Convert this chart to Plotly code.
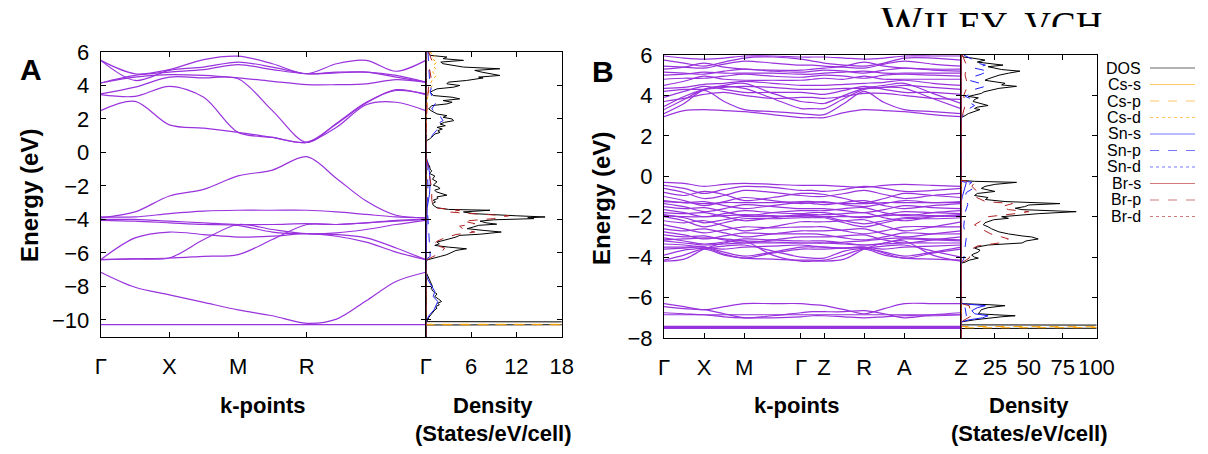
import plotly.graph_objects as go

W, H = 1208, 454
OFF = 8  # the page body adds an 8 px margin; positions below are window pixels
PURPLE = "#9933dd"
CS, SN, BR = "#ffa500", "#1f1fff", "#b22222"
SANS = "Liberation Sans, Arial, sans-serif"
NARROW = "Liberation Sans Narrow, Arial Narrow, Liberation Sans, sans-serif"

# ---------------- panel A : cubic, path G-X-M-R-G ----------------
KA = [0, 0.25, 0.5, 0.75, 1.0, 1.25, 1.5, 1.717, 1.933, 2.15, 2.366]
KA_TICKS = [0, 0.5, 1.0, 1.5, 2.366]
KA_LABELS = ["Γ", "X", "M", "R", "Γ"]

BANDS_A = [
    [-10.28, -10.28, -10.28, -10.28, -10.28, -10.28, -10.28, -10.28, -10.28, -10.28, -10.28],
    [-7.15, -8.05, -8.5, -8.95, -9.4, -9.75, -10.2, -9.95, -8.85, -7.7, -7.15],
    [-6.4, -6.35, -6.3, -6.2, -6.1, -5.2, -4.3, -4.3, -4.2, -4.05, -4.0],
    [-6.4, -6.35, -6.3, -5.2, -4.3, -4.6, -4.85, -4.9, -5.1, -5.7, -6.4],
    [-6.4, -5.1, -4.75, -4.9, -5.05, -5.0, -4.85, -5.0, -5.35, -5.95, -6.4],
    [-4.05, -4.1, -4.2, -4.3, -4.35, -4.75, -4.85, -4.8, -4.6, -4.3, -4.05],
    [-4.0, -4.0, -4.1, -4.2, -4.3, -4.3, -4.25, -4.3, -4.2, -4.1, -4.0],
    [-3.85, -3.85, -3.65, -3.5, -3.45, -3.45, -3.45, -3.55, -3.7, -3.85, -3.9],
    [-3.9, -3.55, -2.6, -2.2, -1.4, -1.05, -0.25, -1.55, -2.9, -3.75, -3.9],
    [2.5, 3.05, 1.65, 1.45, 1.2, 0.9, 0.6, 1.5, 2.85, 3.0, 2.5],
    [3.45, 3.35, 3.95, 3.3, 1.2, 0.9, 0.6, 1.7, 2.95, 3.75, 3.45],
    [3.5, 3.9, 4.5, 4.45, 4.4, 2.5, 0.6, 1.75, 3.0, 3.7, 3.5],
    [4.15, 4.5, 4.65, 4.6, 4.45, 4.25, 4.05, 4.05, 4.1, 4.35, 4.2],
    [4.15, 4.6, 4.8, 4.95, 5.25, 4.95, 4.7, 4.75, 4.8, 4.5, 4.2],
    [5.5, 4.3, 4.9, 5.1, 5.4, 5.1, 4.7, 4.8, 4.8, 4.6, 4.2],
    [5.5, 4.7, 4.95, 5.55, 5.75, 5.3, 4.7, 5.3, 5.5, 4.85, 5.5],
]

# total DOS, panel A (energy, states/eV/cell)
DOSA_E = [6.0, 5.8, 5.7, 5.6, 5.5, 5.4, 5.3, 5.2, 5.1, 5.0, 4.9, 4.8, 4.7, 4.6, 4.5, 4.45, 4.3, 4.2,
          4.1, 4.0, 3.9, 3.8, 3.7, 3.6, 3.4, 3.3, 3.2, 3.1, 3.0, 2.9, 2.8, 2.6, 2.5, 2.3, 2.2, 2.1,
          2.0, 1.9, 1.8, 1.7, 1.6, 1.5, 1.4, 1.3, 1.2, 1.1, 1.0, 0.9, 0.8, 0.7, 0.6, -0.2, -0.3,
          -0.6, -0.8, -1.0, -1.1, -1.25, -1.4, -1.6, -1.75, -1.95, -2.05, -2.15, -2.25, -2.35,
          -2.45, -2.55, -2.65, -2.75, -2.85, -2.95, -3.05, -3.15, -3.3, -3.4, -3.45, -3.55, -3.65,
          -3.72, -3.78, -3.85, -3.9, -3.95, -4.02, -4.1, -4.2, -4.28, -4.35, -4.45, -4.55, -4.65,
          -4.75, -4.82, -4.88, -4.95, -5.05, -5.15, -5.25, -5.35, -5.45, -5.55, -5.65, -5.75,
          -5.85, -5.92, -6.0, -6.1, -6.2, -6.3, -6.4, -6.5, -7.1, -7.2, -7.4, -7.6, -7.8, -8.0,
          -8.1, -8.3, -8.45, -8.6, -8.75, -8.9, -9.0, -9.1, -9.2, -9.3, -9.4, -9.55, -9.7, -9.85,
          -10.0, -10.1, -10.15, -10.25, -10.3, -11.0]
DOSA_TOT = [0.3, 0.6, 2.8, 2.3, 5.0, 2.0, 2.3, 4.0, 5.0, 9.8, 6.5, 7.4, 8.5, 9.8, 7.0, 7.6, 5.4, 3.0,
            2.8, 4.5, 3.7, 1.5, 1.0, 0.6, 1.0, 3.5, 4.5, 2.3, 3.5, 2.8, 0.8, 0.4, 0.7, 1.5, 2.8, 2.3,
            3.5, 3.7, 2.5, 1.9, 2.6, 1.5, 2.2, 1.6, 1.9, 1.2, 1.0, 0.8, 0.5, 0.1, 0.0, 0.0, 0.1,
            0.2, 0.5, 0.6, 0.8, 0.5, 1.2, 0.9, 1.5, 1.0, 1.6, 1.9, 1.2, 1.4,
            2.0, 2.8, 1.5, 1.6, 1.0, 1.3, 0.9, 1.0, 1.5, 3.0, 8.5, 5.0, 6.3,
            9.0, 12.0, 15.8, 13.5, 14.3, 9.0, 7.2, 8.0, 9.4, 7.0, 6.3, 5.5, 7.6,
            10.0, 8.5, 7.2, 4.5, 4.0, 3.2, 2.5, 1.5, 1.8, 1.2, 3.0, 5.4,
            4.0, 3.7, 3.3, 2.8, 2.0, 1.0, 0.3, 0.0, 0.0, 0.1, 0.3, 0.4, 0.6, 0.9,
            0.7, 1.0, 1.5, 1.2, 1.7, 2.1, 1.6, 1.8, 1.3, 1.5, 1.2, 0.9, 0.6, 0.4,
            0.3, 0.0, 60, 60, 0.0, 0.0]

# projected DOS, panel A
A_CSP_E = [6.0, -10.26, -10.27, -10.29, -11.0]
A_CSP = [0, 0, 60, 0, 0]
A_CSD_E = [6.0, 5.8, 5.6, 5.4, 5.2, 5.0, 4.8, 4.6, 4.4, 4.2, 4.0, 3.8, 3.5, 3.0, 2.0, 0.6, -11.0]
A_CSD = [0.5, 1.2, 0.8, 1.5, 1.0, 1.3, 0.9, 1.4, 1.0, 0.7, 0.9, 0.5, 0.3, 0.2, 0.1, 0.0, 0.0]
A_SNS_E = [6.0, -0.3, -0.6, -1.2, -1.8, -2.5, -3.3, -7.2, -7.6, -8.0, -8.3, -8.6, -8.9, -9.1,
           -9.4, -9.7, -10.0, -10.1, -11.0]
A_SNS = [0, 0, 0.3, 0.5, 0.6, 0.5, 0.2, 0, 0.3, 0.8, 1.2, 1.0, 1.6, 1.4, 1.1, 0.5, 0.2, 0, 0]
A_SNP_E = [6.0, 4.4, 4.0, 3.6, 3.2, 3.0, 2.6, 2.3, 2.1, 1.9, 1.7, 1.5, 1.3, 1.1, 0.9, 0.7, 0.6,
           -0.3, -1.0, -2.0, -3.0, -4.0, -5.5, -6.2, -6.4, -11.0]
A_SNP = [0.3, 0.5, 0.8, 0.6, 1.0, 1.4, 0.8, 1.6, 2.0, 2.3, 1.5, 1.6, 1.4, 1.0, 0.7, 0.2, 0.0,
         0.0, 0.2, 0.3, 0.2, 0.3, 0.5, 0.6, 0.0, 0.0]
A_BRP_E = [6.0, 5.5, 5.0, 4.5, 4.0, 3.0, 0.6, -0.3, -0.8, -1.5, -2.2, -2.8, -3.3, -3.45, -3.55,
           -3.65, -3.78, -3.85, -3.95, -4.1, -4.25, -4.4, -4.6, -4.75, -4.9, -5.1, -5.3, -5.5,
           -5.7, -5.9, -6.1, -6.3, -6.45, -11.0]
A_BRP = [0.4, 0.8, 0.5, 0.7, 0.4, 0.2, 0.0, 0.0, 0.3, 0.6, 0.8, 0.8, 1.0, 4.5, 3.0,
         6.0, 11.0, 10.0, 9.0, 5.0, 6.5, 4.5, 5.0, 6.5, 4.0, 2.5, 1.5, 1.0,
         2.5, 2.2, 1.5, 0.6, 0.0, 0.0]

# ---------------- panel B : tetragonal, path G-X-M-G-Z-R-A-Z ----------------
KB = [0, 0.25, 0.5, 0.75, 1.0, 1.354, 1.707, 1.851, 1.995, 2.245, 2.495, 2.745, 2.995, 3.349, 3.702]
KB_TICKS = [0, 0.5, 1.0, 1.707, 1.995, 2.495, 2.995, 3.702]
KB_LABELS = ["Γ", "X", "M", "Γ", "Z", "R", "A", "Z"]

BANDS_B = [
    [-7.42, -7.42, -7.42, -7.42, -7.42, -7.42, -7.42, -7.42, -7.42, -7.42, -7.42, -7.42, -7.42, -7.42, -7.42],
    [-7.47, -7.47, -7.47, -7.47, -7.47, -7.47, -7.47, -7.47, -7.47, -7.47, -7.47, -7.47, -7.47, -7.47, -7.47],
    [-7.52, -7.52, -7.52, -7.52, -7.52, -7.52, -7.52, -7.52, -7.52, -7.52, -7.52, -7.52, -7.52, -7.52, -7.52],
    [-6.3, -6.45, -6.6, -6.45, -6.3, -6.3, -6.3, -6.35, -6.4, -6.6, -6.8, -6.55, -6.3, -6.3, -6.3],
    [-6.45, -6.55, -6.6, -6.8, -7.0, -6.9, -6.75, -6.7, -6.7, -6.7, -6.65, -6.8, -7.0, -6.85, -6.75],
    [-6.75, -6.8, -6.85, -6.85, -6.85, -6.85, -6.85, -6.85, -6.85, -6.85, -6.85, -6.85, -6.85, -6.85, -6.85],
    [-6.85, -6.85, -6.85, -6.95, -7.0, -7.0, -6.95, -6.9, -6.9, -6.95, -7.0, -6.95, -6.9, -6.9, -6.85],
    [-0.3, -0.35, -0.5, -0.4, -0.35, -0.4, -0.45, -0.45, -0.45, -0.5, -0.55, -0.45, -0.4, -0.45, -0.5],
    [-0.45, -0.6, -0.85, -0.65, -0.5, -0.55, -0.7, -0.7, -0.75, -0.65, -0.5, -0.6, -0.75, -0.7, -0.6],
    [-0.6, -0.8, -1.1, -0.95, -0.7, -0.8, -0.95, -1.0, -1.0, -0.85, -0.7, -0.9, -1.1, -0.95, -0.85],
    [-0.8, -0.95, -0.75, -0.9, -1.2, -1.05, -0.85, -0.85, -0.9, -1.1, -1.3, -1.1, -0.85, -0.95, -1.05],
    [-1.0, -1.2, -1.45, -1.25, -1.05, -1.2, -1.35, -1.3, -1.25, -1.4, -1.5, -1.35, -1.2, -1.3, -1.3],
    [-1.2, -1.3, -1.25, -1.45, -1.6, -1.45, -1.3, -1.35, -1.4, -1.3, -1.2, -1.45, -1.6, -1.45, -1.35],
    [-1.25, -1.3, -1.35, -1.3, -1.3, -1.3, -1.25, -1.25, -1.3, -1.35, -1.35, -1.3, -1.3, -1.3, -1.25],
    [-1.35, -1.5, -1.75, -1.6, -1.4, -1.5, -1.6, -1.6, -1.6, -1.7, -1.8, -1.65, -1.45, -1.55, -1.6],
    [-1.5, -1.6, -1.55, -1.75, -1.95, -1.8, -1.7, -1.7, -1.7, -1.6, -1.55, -1.8, -1.95, -1.8, -1.7],
    [-1.65, -1.8, -2.0, -1.85, -1.7, -1.8, -1.85, -1.8, -1.8, -1.95, -2.05, -1.9, -1.75, -1.8, -1.85],
    [-1.8, -1.85, -1.8, -2.0, -2.2, -2.05, -1.9, -1.9, -1.9, -1.85, -1.8, -2.05, -2.2, -2.0, -1.9],
    [-1.95, -2.0, -2.0, -1.95, -1.9, -1.95, -2.0, -2.0, -2.0, -2.0, -2.0, -1.95, -1.9, -1.95, -2.0],
    [-1.9, -2.05, -2.3, -2.15, -2.0, -2.0, -1.95, -1.95, -2.0, -2.2, -2.35, -2.2, -2.05, -2.0, -1.95],
    [-2.0, -2.2, -2.5, -2.3, -2.1, -2.1, -2.05, -2.05, -2.05, -2.3, -2.5, -2.3, -2.1, -2.1, -2.05],
    [-2.2, -2.3, -2.2, -2.45, -2.7, -2.5, -2.25, -2.25, -2.25, -2.2, -2.15, -2.45, -2.7, -2.5, -2.25],
    [-2.4, -2.6, -2.8, -2.65, -2.5, -2.55, -2.5, -2.5, -2.5, -2.7, -2.85, -2.7, -2.5, -2.5, -2.5],
    [-2.6, -2.7, -2.6, -2.8, -3.0, -2.85, -2.7, -2.7, -2.7, -2.65, -2.6, -2.85, -3.0, -2.85, -2.7],
    [-2.75, -2.9, -3.1, -2.95, -2.8, -2.85, -2.85, -2.85, -2.9, -3.05, -3.15, -3.0, -2.8, -2.85, -2.85],
    [-2.9, -3.0, -2.95, -3.15, -3.3, -3.15, -3.0, -3.0, -3.0, -2.95, -2.9, -3.15, -3.3, -3.15, -3.0],
    [-3.15, -3.1, -3.05, -3.1, -3.2, -3.25, -3.3, -3.3, -3.3, -3.25, -3.2, -3.1, -3.05, -3.1, -3.15],
    [-3.05, -3.2, -3.35, -3.25, -3.1, -3.15, -3.2, -3.2, -3.2, -3.3, -3.4, -3.3, -3.1, -3.15, -3.2],
    [-3.2, -3.3, -3.4, -3.35, -3.3, -3.3, -3.3, -3.3, -3.3, -3.35, -3.4, -3.35, -3.3, -3.3, -3.3],
    [-3.35, -3.4, -3.5, -3.6, -3.5, -3.45, -3.4, -3.45, -3.5, -3.55, -3.5, -3.6, -3.5, -3.45, -3.4],
    [-3.5, -3.5, -3.5, -3.75, -3.95, -3.75, -3.5, -3.5, -3.5, -3.55, -3.55, -3.75, -3.95, -3.75, -3.5],
    [-3.6, -3.55, -3.5, -3.85, -4.05, -3.8, -3.6, -3.6, -3.6, -3.55, -3.5, -3.8, -4.05, -3.8, -3.6],
    [-3.9, -3.65, -3.55, -3.45, -3.4, -3.7, -4.0, -4.05, -4.05, -3.7, -3.55, -3.45, -3.4, -3.7, -4.0],
    [-4.15, -3.9, -3.6, -3.9, -4.05, -4.1, -4.15, -4.15, -4.15, -3.9, -3.6, -3.9, -4.05, -4.1, -4.15],
    [-4.2, -4.1, -3.6, -3.3, -3.2, -3.9, -4.2, -4.2, -4.2, -4.1, -3.6, -3.3, -3.2, -3.9, -4.2],
    [2.95, 3.25, 3.3, 3.25, 3.2, 3.05, 2.9, 2.9, 2.9, 3.15, 3.3, 3.25, 3.2, 3.05, 2.95],
    [3.1, 3.6, 4.25, 3.7, 3.3, 3.2, 3.1, 3.05, 3.05, 3.6, 4.2, 3.65, 3.3, 3.2, 3.1],
    [3.3, 3.8, 4.3, 4.45, 4.35, 3.85, 3.35, 3.35, 3.35, 3.85, 4.3, 4.4, 4.35, 3.85, 3.35],
    [3.45, 3.95, 4.3, 4.5, 4.6, 4.1, 3.7, 3.65, 3.6, 4.0, 4.35, 4.5, 4.6, 4.1, 3.6],
    [3.7, 3.85, 4.05, 4.15, 4.0, 3.85, 3.9, 3.9, 3.85, 3.95, 4.1, 4.1, 4.0, 3.85, 3.8],
    [3.9, 4.2, 4.45, 4.3, 4.15, 4.15, 4.15, 4.1, 4.05, 4.25, 4.45, 4.3, 4.15, 4.15, 4.05],
    [4.2, 4.3, 4.3, 4.4, 4.45, 4.4, 4.3, 4.3, 4.3, 4.35, 4.35, 4.4, 4.5, 4.4, 4.3],
    [4.35, 4.4, 4.55, 4.6, 4.7, 4.6, 4.5, 4.5, 4.5, 4.55, 4.6, 4.65, 4.75, 4.6, 4.5],
    [4.5, 4.7, 4.95, 4.8, 4.75, 4.75, 4.75, 4.8, 4.85, 4.8, 4.95, 4.8, 4.8, 4.8, 4.8],
    [4.8, 4.85, 4.85, 4.95, 5.05, 4.95, 4.9, 4.95, 5.0, 4.95, 4.85, 5.0, 5.05, 5.0, 4.95],
    [5.0, 5.05, 5.15, 5.1, 5.1, 5.1, 5.05, 5.05, 5.1, 5.15, 5.2, 5.1, 5.1, 5.1, 5.1],
    [5.15, 5.1, 5.05, 5.2, 5.3, 5.2, 5.15, 5.2, 5.25, 5.2, 5.1, 5.25, 5.35, 5.25, 5.2],
    [5.3, 5.4, 5.6, 5.4, 5.3, 5.25, 5.25, 5.3, 5.35, 5.45, 5.65, 5.45, 5.35, 5.3, 5.3],
    [5.45, 5.4, 5.35, 5.55, 5.7, 5.6, 5.5, 5.5, 5.45, 5.4, 5.35, 5.55, 5.7, 5.55, 5.45],
    [5.75, 5.6, 5.45, 5.65, 5.85, 5.9, 5.8, 5.7, 5.6, 5.5, 5.45, 5.6, 5.85, 5.85, 5.75],
    [5.95, 5.85, 5.8, 5.85, 5.95, 5.95, 5.9, 5.9, 5.9, 5.85, 5.8, 5.85, 5.95, 5.95, 5.95],
]

DOSB_E = [6.0, 5.9, 5.85, 5.75, 5.65, 5.55, 5.5, 5.42, 5.35, 5.28, 5.2, 5.15, 5.1, 5.0, 4.9, 4.82,
          4.75, 4.68, 4.6, 4.52, 4.45, 4.35, 4.25, 4.18, 4.1, 4.0, 3.95, 3.88, 3.8, 3.7, 3.6, 3.5,
          3.42, 3.35, 3.3, 3.2, 3.1, 3.0, 2.95, 2.9, -0.2, -0.25, -0.3, -0.4, -0.5, -0.6, -0.75,
          -0.85, -0.95, -1.05, -1.15, -1.25, -1.35, -1.42, -1.5, -1.58, -1.65, -1.75, -1.85, -1.92,
          -2.0, -2.08, -2.15, -2.3, -2.4, -2.5, -2.6, -2.75, -2.85, -2.95, -3.0, -3.1, -3.2, -3.3,
          -3.4, -3.5, -3.55, -3.65, -3.75, -3.85, -3.9, -4.0, -4.05, -4.15, -4.25, -4.3, -6.25,
          -6.3, -6.35, -6.4, -6.5, -6.6, -6.7, -6.8, -6.85, -6.9, -6.95, -7.0, -7.1, -7.2, -7.3,
          -7.35, -7.38, -7.5, -7.53, -8.0]
DOSB_TOT = [0.5, 1.7, 8, 17.7, 12, 24, 31, 20, 25, 30, 43.5, 38, 35, 28, 22.6, 20,
            17.7, 25, 32.5, 30, 41, 28, 20, 17, 15, 8, 5.4, 12.8, 10, 9, 15, 20,
            12, 10, 14, 9, 5.4, 3, 1.7, 0, 0, 10, 41, 25, 17.7, 15, 25,
            12, 10, 20, 18, 32.5, 73, 50, 47, 40, 45, 85, 57, 45,
            30, 35, 24, 17.7, 16.5, 20, 22.6, 28, 35, 45, 52, 57, 48, 45,
            20, 12, 10, 14, 12.8, 9, 7.9, 10, 12.8, 6, 3, 0, 0,
            0.5, 20, 32.5, 20, 15, 14, 12.8, 25, 40, 30, 22.6, 10, 0.5, 0,
            0, 250, 250, 0, 0]

B_CSP_E = [6.0, -7.43, -7.46, -7.5, -8.0]
B_CSP = [0, 0, 250, 0, 0]
B_SNS_E = [6.0, -0.25, -0.3, -0.5, -1.0, -1.3, -6.3, -6.4, -6.5, -6.65, -6.8, -6.9, -7.0, -7.1,
           -7.2, -8.0]
B_SNS = [0, 0, 4, 3, 1, 0, 0, 18, 12, 8, 10, 20, 16, 6, 0, 0]
B_SNP_E = [6.0, 5.8, 5.6, 5.5, 5.35, 5.2, 5.05, 4.9, 4.75, 4.6, 4.45, 4.3, 4.1, 3.95, 3.85, 3.7,
           3.5, 3.35, 3.2, 3.0, 2.9, -0.2, -0.3, -0.45, -0.6, -0.8, -1.0, -1.4, -1.8, -2.5, -3.0,
           -3.5, -4.1, -4.3, -6.3, -6.5, -6.9, -7.2, -8.0]
B_SNP = [2, 8, 12, 18, 10, 20, 15, 8, 6, 14, 18, 10, 8, 3, 7, 5,
         10, 6, 4, 1, 0, 0, 8, 5, 9, 4, 3, 5, 3, 2, 4,
         3, 2, 0, 0, 3, 4, 0, 0]
B_BRP_E = [6.0, 5.5, 5.0, 4.5, 4.0, 3.5, 3.0, 2.9, -0.2, -0.3, -0.5, -0.75, -1.0, -1.25, -1.35,
           -1.5, -1.65, -1.75, -1.85, -2.0, -2.2, -2.4, -2.6, -2.85, -3.0, -3.1, -3.3, -3.45,
           -3.6, -3.8, -4.05, -4.3, -6.3, -6.4, -6.9, -7.2, -8.0]
B_BRP = [1, 4, 3, 5, 2, 3, 1, 0, 0, 10, 8, 12, 10, 18, 38,
         30, 35, 50, 40, 20, 15, 10, 15, 22, 30, 35, 28, 12,
         8, 7, 6, 0, 0, 6, 8, 0, 0]

LEGEND = ["DOS", "Cs-s", "Cs-p", "Cs-d", "Sn-s", "Sn-p", "Sn-d", "Br-s", "Br-p", "Br-d"]
LEG_COLORS = ["black", CS, CS, CS, SN, SN, SN, BR, BR, BR]
LEG_DASH = ["solid", "solid", "dash", "dot"] + ["solid", "dash", "dot"] * 2


def px_x(p):
    return (p - OFF) / W


def px_y(p):
    return 1 - (p - OFF) / H


fig = go.Figure()

# band structures
for band in BANDS_A:
    fig.add_trace(go.Scatter(x=KA, y=band, mode="lines", xaxis="x", yaxis="y",
                             line=dict(color=PURPLE, width=1.2, shape="spline", smoothing=0.9)))
for band in BANDS_B:
    fig.add_trace(go.Scatter(x=KB, y=band, mode="lines", xaxis="x3", yaxis="y3",
                             line=dict(color=PURPLE, width=1.2, shape="spline", smoothing=0.9)))


def dos_set(xa, ya, e_tot, tot, parts, e_lo):
    fig.add_trace(go.Scatter(x=tot, y=e_tot, mode="lines", xaxis=xa, yaxis=ya,
                             line=dict(color="black", width=1)))
    # zero-valued projections just trace the left frame, like in the original
    for col, dash, e, v in parts:
        if e is None:
            e, v = [6.0, e_lo], [0, 0]
        fig.add_trace(go.Scatter(x=v, y=e, mode="lines", xaxis=xa, yaxis=ya,
                                 line=dict(color=col, width=1, dash=dash)))


dos_set("x2", "y2", DOSA_E, DOSA_TOT, [
    (CS, "solid", None, None),
    (CS, "dash", A_CSP_E, A_CSP),
    (CS, "dot", A_CSD_E, A_CSD),
    (SN, "solid", A_SNS_E, A_SNS),
    (SN, "dash", A_SNP_E, A_SNP),
    (SN, "dot", None, None),
    (BR, "solid", None, None),
    (BR, "dash", A_BRP_E, A_BRP),
    (BR, "dot", None, None),
], -11.0)

dos_set("x4", "y4", DOSB_E, DOSB_TOT, [
    (CS, "solid", None, None),
    (CS, "dash", B_CSP_E, B_CSP),
    (CS, "dot", None, None),
    (SN, "solid", B_SNS_E, B_SNS),
    (SN, "dash", B_SNP_E, B_SNP),
    (SN, "dot", None, None),
    (BR, "solid", None, None),
    (BR, "dash", B_BRP_E, B_BRP),
    (BR, "dot", None, None),
], -8.0)

# partly hidden publisher mark at the top right, clipped by its own small axis
fig.add_trace(go.Scatter(x=[0.38], y=[0.05], mode="text", xaxis="x5", yaxis="y5",
                         text=["W<span style='font-size:37px'>ILEY  VCH</span>"],
                         textposition="middle center", cliponaxis=True,
                         textfont=dict(family="Liberation Serif, serif", size=46, color="black")))

fig.update_traces(hoverinfo="skip", showlegend=False)

TICKFONT = dict(family=NARROW, size=22, color="black")


def frame(**kw):
    d = dict(showline=True, linecolor="black", linewidth=1, mirror="ticks", ticks="inside",
             ticklen=5, tickcolor="black", showgrid=False, zeroline=False, tickfont=TICKFONT,
             automargin=False)
    d.update(kw)
    return d


ya_dom = [px_y(336.7), px_y(52)]
yb_dom = [px_y(338), px_y(55)]

fig.update_layout(
    template="none",
    width=W, height=H, margin=dict(l=0, r=0, t=0, b=0, pad=0, autoexpand=False),
    paper_bgcolor="white", plot_bgcolor="rgba(0,0,0,0)", showlegend=False,
    xaxis=frame(domain=[px_x(100.7), px_x(425.7)], range=[0, KA[-1]], anchor="y",
                tickvals=KA_TICKS, ticktext=KA_LABELS, ticklabelstandoff=10),
    yaxis=frame(domain=ya_dom, range=[-11, 6], anchor="x", dtick=2, tick0=0,
                ticklabelstandoff=6),
    xaxis2=frame(domain=[px_x(425.7), px_x(561.7)], range=[0, 18], anchor="y2",
                 tickvals=[6, 12, 18], ticklabelstandoff=10),
    yaxis2=frame(domain=ya_dom, range=[-11, 6], anchor="x2", matches="y", dtick=2, tick0=0,
                 showticklabels=False),
    xaxis3=frame(domain=[px_x(664), px_x(961)], range=[0, KB[-1]], anchor="y3",
                 tickvals=KB_TICKS, ticktext=KB_LABELS, ticklabelstandoff=10),
    yaxis3=frame(domain=yb_dom, range=[-8, 6], anchor="x3", dtick=2, tick0=0,
                 ticklabelstandoff=6),
    xaxis4=frame(domain=[px_x(961), px_x(1096.5)], range=[0, 100], anchor="y4",
                 tickvals=[25, 50, 75, 100], ticklabelstandoff=10),
    yaxis4=frame(domain=yb_dom, range=[-8, 6], anchor="x4", matches="y3", dtick=2, tick0=0,
                 showticklabels=False),
    xaxis5=dict(domain=[0.7, 1.0], range=[0, 1], visible=False, anchor="y5"),
    yaxis5=dict(domain=[px_y(27), 1.0], range=[0, 1], visible=False, anchor="x5"),
)

ann = []


def label(text, x, y, size, angle=0, anchor="center", family=SANS):
    ann.append(dict(text=text, x=px_x(x), y=px_y(y), xref="paper", yref="paper",
                    showarrow=False, textangle=angle, xanchor=anchor, yanchor="middle",
                    font=dict(family=family, size=size, color="black")))


label("<b>A</b>", 31, 70, 30)
label("<b>B</b>", 603, 72, 30)
label("<b>Energy (eV)</b>", 29, 196, 24, angle=-90)
label("<b>Energy (eV)</b>", 601, 199, 24, angle=-90)
label("<b>k-points</b>", 263, 405, 22)
label("<b>k-points</b>", 797, 405, 22)
for cx in (493, 1029):
    label("<b>Density</b>", cx, 405, 22)
    label("<b>(States/eV/cell)</b>", cx, 433, 22)

shapes = []
for i, name in enumerate(LEGEND):
    yy = 68 + 16.5 * i
    label(name, 1143, yy, 16, anchor="right")
    shapes.append(dict(type="line", xref="paper", yref="paper",
                       x0=px_x(1150), x1=px_x(1195), y0=px_y(yy), y1=px_y(yy),
                       line=dict(color=LEG_COLORS[i], width=1.2, dash=LEG_DASH[i]),
                       opacity=0.6))

fig.update_layout(annotations=ann, shapes=shapes)

fig.write_html("out.html")
